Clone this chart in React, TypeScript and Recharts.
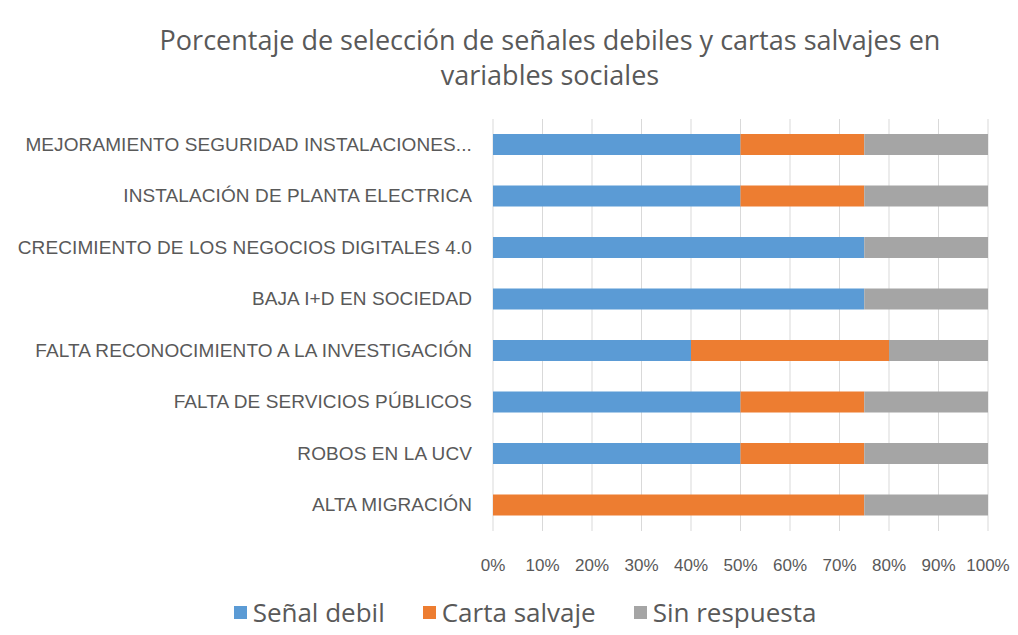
import { BarChart, Bar, XAxis, YAxis, CartesianGrid, Legend } from "recharts";

const categories = [
  "MEJORAMIENTO SEGURIDAD INSTALACIONES...",
  "INSTALACIÓN DE PLANTA ELECTRICA ",
  "CRECIMIENTO DE LOS NEGOCIOS DIGITALES 4.0",
  "BAJA I+D EN SOCIEDAD",
  "FALTA RECONOCIMIENTO A LA INVESTIGACIÓN",
  "FALTA DE SERVICIOS PÚBLICOS",
  "ROBOS EN LA UCV",
  "ALTA MIGRACIÓN",
];
const senalDebil = [50, 50, 75, 75, 40, 50, 50, 0];
const cartaSalvaje = [25, 25, 0, 0, 40, 25, 25, 75];
const sinRespuesta = [25, 25, 25, 25, 20, 25, 25, 25];
const xTicks = [0, 10, 20, 30, 40, 50, 60, 70, 80, 90, 100];

const data = categories.map((name, i) => ({
  name,
  senal: senalDebil[i],
  carta: cartaSalvaje[i],
  sin: sinRespuesta[i],
}));

const series = [
  { key: "senal", name: "Señal debil", color: "#5B9BD5" },
  { key: "carta", name: "Carta salvaje", color: "#ED7D31" },
  { key: "sin", name: "Sin respuesta", color: "#A5A5A5" },
];

const textColor = "#595959";

const YTick = (props: any) => {
  const { x, y, payload } = props;
  return (
    <text
      x={x}
      y={y}
      dy={6}
      textAnchor="end"
      fill={textColor}
      fontFamily="Liberation Sans, Arial, sans-serif"
      fontSize={19}
      letterSpacing={0.1}
    >
      {payload.value}
    </text>
  );
};

const LegendContent = () => (
  <div style={{ display: "flex", justifyContent: "center", gap: 38, fontFamily: "Open Sans, sans-serif", fontSize: 26, color: textColor }}>
    {series.map((s) => (
      <div key={s.key} style={{ display: "flex", alignItems: "center" }}>
        <span style={{ display: "inline-block", width: 13, height: 13, background: s.color, marginRight: 6 }} />
        <span>{s.name}</span>
      </div>
    ))}
  </div>
);

export default function App() {
  return (
    <div style={{ position: "absolute", left: 0, top: 0, width: 1018, height: 635, background: "#fff" }}>
      <div
        style={{
          position: "absolute",
          top: 22,
          left: 100,
          width: 900,
          textAlign: "center",
          fontFamily: "Open Sans, sans-serif",
          fontSize: 27,
          lineHeight: "35px",
          color: textColor,
        }}
      >
        Porcentaje de selección de señales debiles y cartas salvajes en
        <br />
        variables sociales
      </div>
      <BarChart
        width={1018}
        height={635}
        data={data}
        layout="vertical"
        margin={{ top: 119, right: 30, bottom: 64, left: 0 }}
      >
        <CartesianGrid horizontal={false} stroke="#D9D9D9" />
        <XAxis
          type="number"
          domain={[0, 100]}
          ticks={xTicks}
          tickFormatter={(v) => `${v}%`}
          axisLine={false}
          tickLine={false}
          height={40}
          tickMargin={22}
          tick={{ fill: textColor, fontSize: 17, fontFamily: "Liberation Sans, Arial, sans-serif" }}
          interval={0}
        />
        <YAxis
          type="category"
          dataKey="name"
          width={493}
          axisLine={false}
          tickLine={false}
          tickMargin={15}
          tick={<YTick />}
          interval={0}
        />
        <Legend
          layout="horizontal"
          verticalAlign="middle"
          align="center"
          content={<LegendContent />}
          wrapperStyle={{ position: "absolute", top: 594, left: 16, width: 1018 }}
        />
        {series.map((s) => (
          <Bar key={s.key} dataKey={s.key} name={s.name} stackId="a" fill={s.color} barSize={21} isAnimationActive={false} />
        ))}
      </BarChart>
    </div>
  );
}
